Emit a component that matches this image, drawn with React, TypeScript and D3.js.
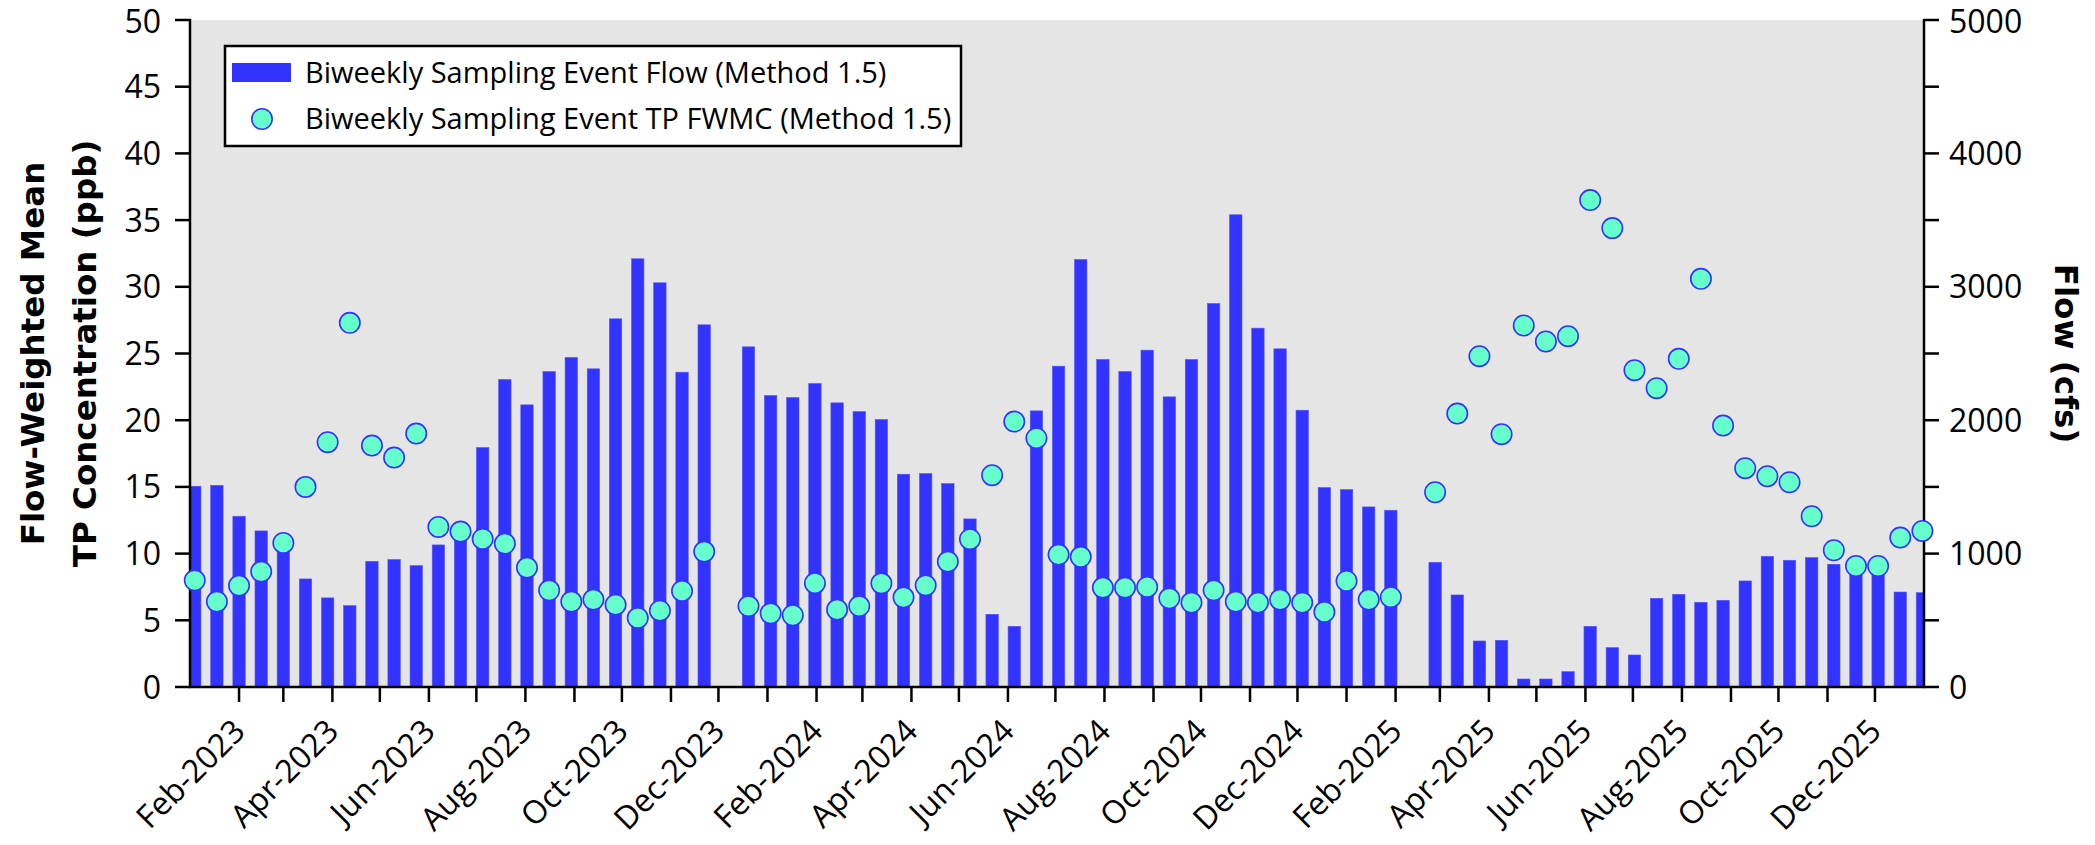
import React from "react";
import * as d3 from "d3";

const sampleDates = [
  "2023-01-04","2023-01-18","2023-02-01","2023-02-15","2023-03-01","2023-03-15","2023-03-29","2023-04-12","2023-04-26","2023-05-10",
  "2023-05-24","2023-06-07","2023-06-21","2023-07-05","2023-07-19","2023-08-02","2023-08-16","2023-08-30","2023-09-13","2023-09-27",
  "2023-10-11","2023-10-25","2023-11-08","2023-11-22","2023-12-06","2023-12-20","2024-01-03","2024-01-17","2024-01-31","2024-02-14",
  "2024-02-28","2024-03-13","2024-03-27","2024-04-10","2024-04-24","2024-05-08","2024-05-22","2024-06-05","2024-06-19","2024-07-03",
  "2024-07-17","2024-07-31","2024-08-14","2024-08-28","2024-09-11","2024-09-25","2024-10-09","2024-10-23","2024-11-06","2024-11-20",
  "2024-12-04","2024-12-18","2025-01-01","2025-01-15","2025-01-29","2025-02-12","2025-02-26","2025-03-12","2025-03-26","2025-04-09",
  "2025-04-23","2025-05-07","2025-05-21","2025-06-04","2025-06-18","2025-07-02","2025-07-16","2025-07-30","2025-08-13","2025-08-27",
  "2025-09-10","2025-09-24","2025-10-08","2025-10-22","2025-11-05","2025-11-19","2025-12-03","2025-12-17","2025-12-31",
];

const flowCfs: (number | null)[] = [
  1505, 1512, 1280, 1170, 1040, 810, 668, 610, 942, 955,
  910, 1065, 1140, 1795, 2305, 2115, 2365, 2470, 2385, 2760,
  3210, 3030, 2360, 2715, null, 2550, 2185, 2170, 2275, 2130,
  2065, 2005, 1595, 1600, 1525, 1260, 545, 455, 2070, 2405,
  3205, 2455, 2365, 2525, 2175, 2455, 2875, 3540, 2690, 2535,
  2075, 1495, 1480, 1350, 1325, null, 935, 690, 345, 350,
  60, 60, 115, 455, 295, 240, 665, 695, 635, 650,
  795, 980, 950, 970, 920, 890, 875, 712, 707,
];

const tpFwmc: (number | null)[] = [
  8.0, 6.4, 7.6, 8.65, 10.8, 15.0, 18.35, 27.3, 18.1, 17.2,
  19.0, 12.0, 11.65, 11.1, 10.75, 8.95, 7.25, 6.4, 6.55, 6.17,
  5.18, 5.72, 7.2, 10.15, null, 6.07, 5.52, 5.38, 7.78, 5.8,
  6.07, 7.77, 6.72, 7.62, 9.4, 11.08, 15.88, 19.9, 18.65, 9.93,
  9.76, 7.45, 7.45, 7.5, 6.65, 6.33, 7.25, 6.4, 6.33, 6.55,
  6.33, 5.63, 7.95, 6.55, 6.73, null, 14.6, 20.5, 24.8, 18.95,
  27.1, 25.9, 26.3, 36.5, 34.4, 23.75, 22.4, 24.6, 30.6, 19.6,
  16.4, 15.8, 15.35, 12.8, 10.25, 9.07, 9.07, 11.2, 11.7,
];

const leftTicks = [0, 5, 10, 15, 20, 25, 30, 35, 40, 45, 50];
const rightMajorTicks = [0, 1000, 2000, 3000, 4000, 5000];
const rightMinorTicks = [500, 1500, 2500, 3500, 4500];
const xTickLabels = [
  "Feb-2023","Apr-2023","Jun-2023","Aug-2023","Oct-2023","Dec-2023",
  "Feb-2024","Apr-2024","Jun-2024","Aug-2024","Oct-2024","Dec-2024",
  "Feb-2025","Apr-2025","Jun-2025","Aug-2025","Oct-2025","Dec-2025",
];
const legendLabels = [
  "Biweekly Sampling Event Flow (Method 1.5)",
  "Biweekly Sampling Event TP FWMC (Method 1.5)",
];
const leftTitle = ["Flow-Weighted Mean", "TP Concentration (ppb)"];
const rightTitle = "Flow (cfs)";

const W = 2095;
const H = 845;
const PL = 190, PR = 1924, PT = 20, PB = 687;
const BAR = "#3333FF";
const PT_FILL = "#66FFCC";
const TICK_FONT = "'Open Sans', sans-serif";
const TITLE_FONT = "'DejaVu Sans', sans-serif";

export default function App() {
  const parse = d3.timeParse("%Y-%m-%d");
  const parseLbl = d3.timeParse("%b-%Y");
  const x = d3.scaleTime().domain([new Date(2023, 0, 1), new Date(2026, 0, 1)]).range([PL, PR]);
  const yL = d3.scaleLinear().domain([0, 50]).range([PB, PT]);
  const yR = d3.scaleLinear().domain([0, 5000]).range([PB, PT]);
  const monthTicks = d3.timeMonth.range(new Date(2023, 1, 1), new Date(2026, 0, 1));
  const barW = 12.4;
  const tickLen = 15;

  return (
    <svg width={W} height={H} style={{ position: "absolute", left: 0, top: 0, background: "#fff" }}>
      <defs>
        <clipPath id="plotClip">
          <rect x={PL} y={PT} width={PR - PL} height={PB - PT} />
        </clipPath>
      </defs>
      <rect x={PL} y={PT} width={PR - PL} height={PB - PT} fill="#E5E5E5" />
      <g clipPath="url(#plotClip)">
        {sampleDates.map((d, i) => {
          const v = flowCfs[i];
          if (v == null) return null;
          const cx = x(parse(d)!);
          return <rect key={i} x={cx - barW / 2} y={yR(v)} width={barW} height={PB - yR(v)} fill={BAR} stroke="#5555FF" strokeWidth={0.6} />;
        })}
      </g>
      {/* axes */}
      <g stroke="#000" strokeWidth={2.5} fill="none">
        <line x1={PL} y1={PT - 1} x2={PL} y2={PB + 1} />
        <line x1={PR} y1={PT - 1} x2={PR} y2={PB + 1} />
        <line x1={PL - 1} y1={PB} x2={PR + 1} y2={PB} />
        {leftTicks.map((t) => (
          <line key={"lt" + t} x1={PL - tickLen} x2={PL} y1={yL(t)} y2={yL(t)} />
        ))}
        {rightMajorTicks.concat(rightMinorTicks).map((t) => (
          <line key={"rt" + t} x1={PR} x2={PR + tickLen} y1={yR(t)} y2={yR(t)} />
        ))}
        {monthTicks.map((m, i) => (
          <line key={"mt" + i} x1={x(m)} x2={x(m)} y1={PB} y2={PB + tickLen} />
        ))}
      </g>
      <g fontFamily={TICK_FONT} fontSize={32} fill="#000">
        {leftTicks.map((t) => (
          <text key={"ll" + t} x={161} y={yL(t) + (t === 50 ? 1.5 : 0)} dy="0.36em" textAnchor="end">{t}</text>
        ))}
        {rightMajorTicks.map((t) => (
          <text key={"rl" + t} x={1949} y={yR(t) + (t === 5000 ? 1.5 : 0)} dy="0.36em" textAnchor="start">{t}</text>
        ))}
        {xTickLabels.map((l) => {
          const px = x(parseLbl(l)!) + 8;
          const py = 733;
          return (
            <text key={l} x={px} y={py} textAnchor="end" transform={`rotate(-45 ${px} ${py})`}>{l}</text>
          );
        })}
      </g>
      {/* titles */}
      <g fontFamily={TITLE_FONT} fontWeight="bold" fontSize={32.5} fill="#000">
        <text transform={`translate(44 ${(PT + PB) / 2}) rotate(-90)`} textAnchor="middle">{leftTitle[0]}</text>
        <text transform={`translate(96 ${(PT + PB) / 2}) rotate(-90)`} textAnchor="middle">{leftTitle[1]}</text>
        <text transform={`translate(2055 ${(PT + PB) / 2}) rotate(90)`} textAnchor="middle">{rightTitle}</text>
      </g>
      {/* points */}
      <g>
        {sampleDates.map((d, i) => {
          const v = tpFwmc[i];
          if (v == null) return null;
          return <circle key={i} cx={x(parse(d)!)} cy={yL(v)} r={10.2} fill={PT_FILL} stroke={BAR} strokeWidth={1.6} />;
        })}
      </g>
      {/* legend */}
      <g>
        <rect x={225} y={46} width={736} height={100} fill="#fff" stroke="#000" strokeWidth={2.5} />
        <rect x={232} y={63} width={59} height={19} fill={BAR} />
        <circle cx={262} cy={119} r={10.2} fill={PT_FILL} stroke={BAR} strokeWidth={1.6} />
        <g fontFamily={TICK_FONT} fontSize={29} fill="#000">
          <text x={305} y={83}>{legendLabels[0]}</text>
          <text x={305} y={129}>{legendLabels[1]}</text>
        </g>
      </g>
    </svg>
  );
}
